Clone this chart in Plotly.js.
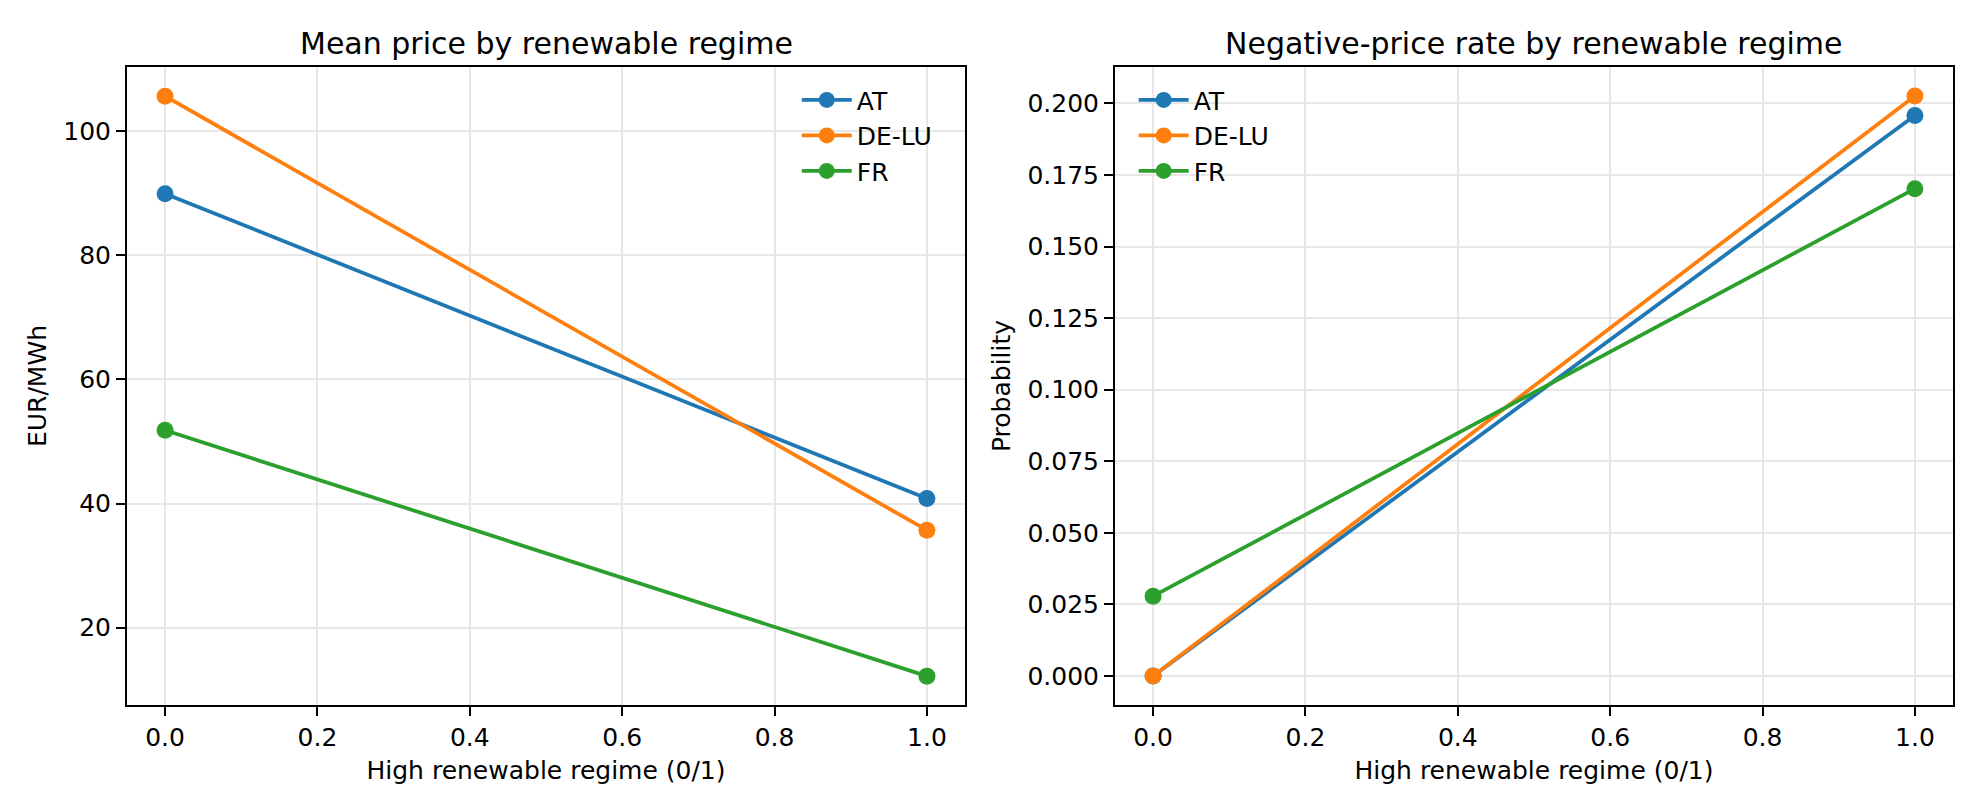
<!DOCTYPE html>
<html>
<head>
<meta charset="utf-8">
<script src="https://cdn.plot.ly/plotly-3.0.1.min.js"></script>
<style>
  body { margin: 0; background: #ffffff; }
  #chart { width: 1980px; height: 810px; }
</style>
</head>
<body>
<div id="chart"></div>
<script>
// regime on the x axis: 0 = low renewable share, 1 = high
const regimes = [0, 1];
const zones = ['AT', 'DE-LU', 'FR'];
const zoneColors = ['#1f77b4', '#ff7f0e', '#2ca02c'];

// mean day-ahead price, EUR/MWh
const meanPriceAT = [89.9, 40.8];
const meanPriceDELU = [105.6, 35.7];
const meanPriceFR = [51.8, 12.2];

// share of hours with a negative price
const negRateAT = [0.0, 0.1958];
const negRateDELU = [0.0, 0.2026];
const negRateFR = [0.0279, 0.1702];

const font = 'DejaVu Sans, sans-serif';
const meanSeries = [meanPriceAT, meanPriceDELU, meanPriceFR];
const negSeries = [negRateAT, negRateDELU, negRateFR];

function makeTrace(i, values, axisSuffix, legendName) {
	return {
		x: regimes,
		y: values,
		type: 'scatter',
		mode: 'lines+markers',
		name: zones[i],
		xaxis: 'x' + axisSuffix,
		yaxis: 'y' + axisSuffix,
		legend: legendName,
		line: { color: zoneColors[i], width: 3.75 },
		marker: { color: zoneColors[i], size: 17 },
		cliponaxis: false,
	};
}

const data = [];
meanSeries.forEach((values, i) => data.push(makeTrace(i, values, '', 'legend')));
negSeries.forEach((values, i) => data.push(makeTrace(i, values, '2', 'legend2')));

// common axis look, matplotlib-like
const axisBase = {
	showline: true,
	mirror: true,
	linecolor: '#000000',
	linewidth: 2,
	ticks: 'outside',
	ticklen: 9,
	tickwidth: 2,
	tickcolor: '#000000',
	showgrid: true,
	gridcolor: '#e7e7e7',
	gridwidth: 2,
	zeroline: false,
	automargin: false,
	tickfont: { family: font, size: 25, color: '#000000' },
};

const xaxisBase = {
	...axisBase,
	range: [-0.05, 1.05],
	tick0: 0,
	dtick: 0.2,
	tickformat: '.1f',
	title: {
		text: 'High renewable regime (0/1)',
		font: { family: font, size: 25, color: '#000000' },
		standoff: 10,
	},
};

const legendBase = {
	xanchor: 'left',
	yanchor: 'top',
	bgcolor: 'rgba(0,0,0,0)',
	borderwidth: 0,
	itemwidth: 50,
	font: { family: font, size: 25, color: '#000000' },
};

const layout = {
	width: 1980,
	height: 810,
	paper_bgcolor: '#ffffff',
	plot_bgcolor: '#ffffff',
	margin: { l: 127, r: 27, t: 67, b: 105 },
	showlegend: true,
	font: { family: font, color: '#000000' },
	xaxis: { ...xaxisBase, domain: [0, 0.45893], anchor: 'y' },
	xaxis2: { ...xaxisBase, domain: [0.54107, 1], anchor: 'y2' },
	yaxis: {
		...axisBase,
		domain: [0, 1],
		anchor: 'x',
		range: [7.55, 110.3],
		tick0: 0,
		dtick: 20,
		title: { text: 'EUR/MWh', font: { family: font, size: 25, color: '#000000' }, standoff: 10 },
	},
	yaxis2: {
		...axisBase,
		domain: [0, 1],
		anchor: 'x2',
		range: [-0.0101, 0.2127],
		tick0: 0,
		dtick: 0.025,
		tickformat: '.3f',
		title: { text: 'Probability', font: { family: font, size: 25, color: '#000000' }, standoff: 10 },
	},
	legend: { ...legendBase, x: 0.3668, y: 0.984 },
	legend2: { ...legendBase, x: 0.5513, y: 0.984 },
	annotations: [
		{
			text: 'Mean price by renewable regime',
			xref: 'x domain', yref: 'y domain',
			x: 0.5, y: 1, xanchor: 'center', yanchor: 'bottom', yshift: 4,
			showarrow: false,
			font: { family: font, size: 30, color: '#000000' },
		},
		{
			text: 'Negative-price rate by renewable regime',
			xref: 'x2 domain', yref: 'y2 domain',
			x: 0.5, y: 1, xanchor: 'center', yanchor: 'bottom', yshift: 4,
			showarrow: false,
			font: { family: font, size: 30, color: '#000000' },
		},
	],
};

const config = { displayModeBar: false, staticPlot: true };
Plotly.newPlot('chart', data, layout, config);
</script>
</body>
</html>
